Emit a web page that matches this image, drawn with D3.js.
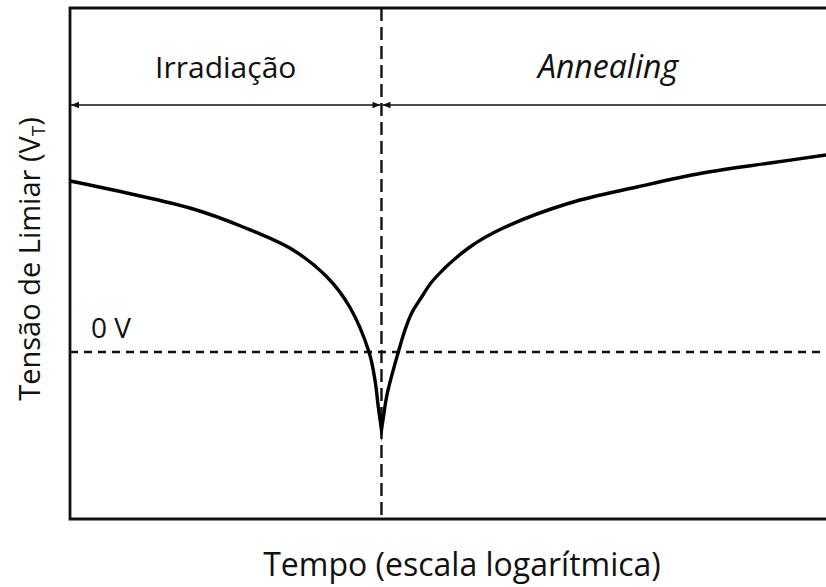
<!DOCTYPE html>
<html>
<head>
<meta charset="utf-8">
<script src="https://cdn.jsdelivr.net/npm/d3@7"></script>
<style>
  html, body { margin: 0; padding: 0; background: #fff; }
  svg { display: block; }
  text { font-family: "Open Sans", "Noto Sans", sans-serif; fill: #111; }
</style>
</head>
<body>
<svg id="chart" width="826" height="587"></svg>
<script>
// Threshold voltage vs. log time: irradiation phase, then annealing.
// x: position along the log-time axis (0–100), y: V_T in arbitrary units (0 = 0 V).
const irradiationX = [0, 7.5, 16.3, 22.9, 29.5, 34.0, 37.0, 39.55, 40.34, 40.78, 41.2];
const irradiationY = [1.71, 1.59, 1.43, 1.25, 1.02, 0.75, 0.45, 0.0, -0.28, -0.55, -0.78];
const annealingX = [41.2, 41.44, 41.95, 43.43, 44.31, 45.2, 46.52, 48.06, 52.9, 57.3, 66.1, 75.0, 83.7, 92.6, 100];
const annealingY = [-0.78, -0.66, -0.42, 0.0, 0.22, 0.39, 0.55, 0.72, 1.05, 1.24, 1.49, 1.65, 1.79, 1.89, 1.97];
const switchTime = 41.2;      // end of irradiation / start of annealing
const zeroVolt = 0;
const phaseLabels = ["Irradiação", "Annealing"];
const xAxisTitle = "Tempo (escala logarítmica)";
const zeroLabel = "0 V";

const svg = d3.select("#chart");
const plotLeft = 70, plotTop = 8, plotBottom = 519, plotRight = 826;

const x = d3.scaleLinear().domain([0, 100]).range([plotLeft, plotRight]);
const y = d3.scaleLinear().domain([-1.67, 3.44]).range([plotBottom, plotTop]);

// Frame: left, top and bottom edges (right side runs off the page)
svg.append("path")
  .attr("d", `M${plotRight + 10},${plotTop}H${plotLeft}V${plotBottom}H${plotRight + 10}`)
  .attr("fill", "none").attr("stroke", "#111").attr("stroke-width", 2.8);

// Phase separator
svg.append("line")
  .attr("x1", x(switchTime)).attr("x2", x(switchTime))
  .attr("y1", plotTop).attr("y2", plotBottom)
  .attr("stroke", "#111").attr("stroke-width", 2.4)
  .attr("stroke-dasharray", "13,6");

// 0 V reference
svg.append("line")
  .attr("x1", plotLeft).attr("x2", plotRight)
  .attr("y1", y(zeroVolt)).attr("y2", y(zeroVolt))
  .attr("stroke", "#111").attr("stroke-width", 2.4)
  .attr("stroke-dasharray", "8,6");

// Arrow markers
const defs = svg.append("defs");
defs.append("marker").attr("id", "arr")
  .attr("viewBox", "0 0 10 10").attr("refX", 10).attr("refY", 5)
  .attr("markerWidth", 10).attr("markerHeight", 8)
  .attr("markerUnits", "userSpaceOnUse").attr("orient", "auto-start-reverse")
  .append("path").attr("d", "M0,1L10,5L0,9Z").attr("fill", "#111");

const arrowY = 105;
[[0, switchTime], [switchTime, 100]].forEach(([a, b]) => {
  svg.append("line")
    .attr("x1", x(a) + 1).attr("x2", x(b) - (b === 100 ? -20 : 1))
    .attr("y1", arrowY).attr("y2", arrowY)
    .attr("stroke", "#111").attr("stroke-width", 1.5)
    .attr("marker-start", "url(#arr)")
    .attr("marker-end", b === 100 ? null : "url(#arr)");
});

// Phase labels
svg.append("text").attr("x", x(switchTime / 2)).attr("y", 78)
  .attr("text-anchor", "middle").attr("font-size", 30).text(phaseLabels[0]);
svg.append("text").attr("x", 608).attr("y", 78)
  .attr("text-anchor", "middle").attr("font-size", 32)
  .attr("font-style", "italic").text(phaseLabels[1]);

// 0 V label
svg.append("text").attr("x", 91).attr("y", 338)
  .attr("font-size", 28).text(zeroLabel);

// V_T curve: two smooth branches joined at the sharp minimum
const line = d3.line().x(d => x(d[0])).y(d => y(d[1])).curve(d3.curveCatmullRom.alpha(0.5));
const leftPath = line(d3.zip(irradiationX, irradiationY));
const rightPath = line(d3.zip(annealingX, annealingY)).replace(/^M/, "L");
svg.append("path")
  .attr("d", leftPath + rightPath)
  .attr("fill", "none").attr("stroke", "#000").attr("stroke-width", 3.4)
  .attr("stroke-linejoin", "miter").attr("stroke-miterlimit", 20);

// Axis titles
svg.append("text").attr("x", 462).attr("y", 576)
  .attr("text-anchor", "middle").attr("font-size", 32).text(xAxisTitle);

const yt = svg.append("text")
  .attr("transform", "translate(40,259) rotate(-90)")
  .attr("text-anchor", "middle").attr("font-size", 29);
yt.append("tspan").text("Tensão de Limiar (V");
yt.append("tspan").attr("font-size", 19).attr("dy", 5).text("T");
yt.append("tspan").attr("dy", -5).text(")");
</script>
</body>
</html>
